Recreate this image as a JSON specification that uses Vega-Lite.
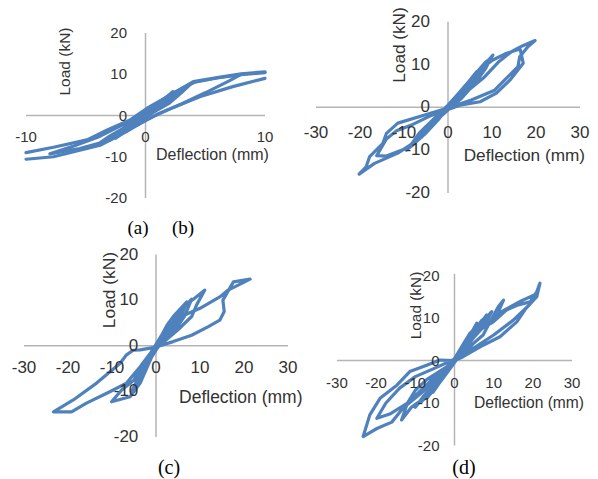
{
  "$schema": "https://vega.github.io/schema/vega-lite/v6.json",
  "padding": 0,
  "background": "white",
  "columns": 2,
  "spacing": 0,
  "bounds": "flush",
  "config": {"view": {"stroke": null}},
  "concat": [
    {
      "width": 299, "height": 240,
      "encoding": {
        "x": {"field": "x", "type": "quantitative", "scale": {"domain": [-12.176, 12.845], "nice": false, "zero": false}, "axis": null},
        "y": {"field": "y", "type": "quantitative", "scale": {"domain": [-30.18, 28.0], "nice": false, "zero": false}, "axis": null}
      },
      "layer": [
        {"data": {"values": [{"x": -10, "y": 0, "x2": 10, "y2": 0}, {"x": 0, "y": -20, "x2": 0, "y2": 20}]},
         "mark": {"type": "rule", "color": "#B4B4B4", "strokeWidth": 1.5},
         "encoding": {"x2": {"field": "x2"}, "y2": {"field": "y2"}}},
        {"data": {"values": [
          {"s":1,"x":0,"y":0},{"s":1,"x":0.8,"y":2},{"s":1,"x":1.5,"y":3.3},{"s":1,"x":1,"y":2},{"s":1,"x":0,"y":-0.5},{"s":1,"x":-0.8,"y":-2},{"s":1,"x":-1.5,"y":-3.3},{"s":1,"x":-1,"y":-2},{"s":1,"x":0,"y":0.4},
          {"s":1,"x":1,"y":2.6},{"s":1,"x":2.3,"y":5.8},{"s":1,"x":1.5,"y":3},{"s":1,"x":0.5,"y":0.5},{"s":1,"x":-0.5,"y":-1.3},{"s":1,"x":-1.5,"y":-3.5},{"s":1,"x":-2.5,"y":-5.5},{"s":1,"x":-1.6,"y":-3},{"s":1,"x":-0.5,"y":-0.5},{"s":1,"x":0.5,"y":1.5},
          {"s":1,"x":1.5,"y":3.8},{"s":1,"x":2.8,"y":5.8},{"s":1,"x":2.2,"y":4},{"s":1,"x":1,"y":1.5},{"s":1,"x":0,"y":-0.3},{"s":1,"x":-1.2,"y":-2.8},{"s":1,"x":-2.8,"y":-5.5},{"s":1,"x":-2,"y":-3.6},{"s":1,"x":-0.8,"y":-1.2},{"s":1,"x":0,"y":0.6},
          {"s":1,"x":1.8,"y":4.6},{"s":1,"x":3.5,"y":7.2},{"s":1,"x":2.6,"y":4.6},{"s":1,"x":1.2,"y":1.8},{"s":1,"x":0,"y":-0.4},{"s":1,"x":-1.8,"y":-3.8},{"s":1,"x":-3.4,"y":-6.2},{"s":1,"x":-2.2,"y":-3.8},{"s":1,"x":-0.8,"y":-1},{"s":1,"x":0.3,"y":1},
          {"s":1,"x":2,"y":4.5},{"s":1,"x":3,"y":6.5},{"s":1,"x":4,"y":8.2},{"s":1,"x":3,"y":5.5},{"s":1,"x":2,"y":3},{"s":1,"x":0.5,"y":0.5},{"s":1,"x":-1,"y":-2.2},{"s":1,"x":-2.5,"y":-4.8},{"s":1,"x":-4,"y":-7},{"s":1,"x":-3,"y":-5},{"s":1,"x":-1.5,"y":-2.5},{"s":1,"x":0,"y":0.5},
          {"s":1,"x":1.5,"y":3.5},{"s":1,"x":3,"y":6.4},{"s":1,"x":4.2,"y":8.2},{"s":1,"x":6,"y":9.2},{"s":1,"x":8,"y":10},{"s":1,"x":7,"y":8.4},{"s":1,"x":5,"y":5.5},{"s":1,"x":3,"y":2.8},{"s":1,"x":1,"y":0.3},{"s":1,"x":-1,"y":-2.8},{"s":1,"x":-3,"y":-6},{"s":1,"x":-5.5,"y":-8},{"s":1,"x":-8,"y":-9.3},{"s":1,"x":-6,"y":-7.4},{"s":1,"x":-4,"y":-5.3},{"s":1,"x":-2,"y":-2.4},{"s":1,"x":-0.5,"y":0},
          {"s":1,"x":1,"y":3},{"s":1,"x":2.6,"y":5.8},{"s":1,"x":4,"y":8.2},{"s":1,"x":6,"y":9.2},{"s":1,"x":8,"y":10.1},{"s":1,"x":10,"y":10.6},
          {"s":2,"x":10,"y":9.0},{"s":2,"x":7.3,"y":7.0},{"s":2,"x":4.6,"y":4.6},{"s":2,"x":1.8,"y":1.3},{"s":2,"x":0,"y":-1.1},{"s":2,"x":-1.6,"y":-3.9},{"s":2,"x":-3.8,"y":-7.2},{"s":2,"x":-7.7,"y":-10},{"s":2,"x":-10,"y":-10.6},
          {"s":3,"x":-10,"y":-9.0},{"s":3,"x":-7.7,"y":-7.7},{"s":3,"x":-4.9,"y":-5.9},{"s":3,"x":-3.2,"y":-3.5},{"s":3,"x":-1.3,"y":-1.1},{"s":3,"x":0.1,"y":1.7},{"s":3,"x":1.5,"y":4},{"s":3,"x":2.8,"y":6.2},{"s":3,"x":4,"y":8.0},{"s":3,"x":6,"y":9.1},{"s":3,"x":8,"y":9.9},{"s":3,"x":10,"y":10.4}
        ]},
         "mark": {"type": "line", "color": "#4F81BD", "strokeWidth": 3.2, "strokeJoin": "round", "strokeCap": "round"},
         "encoding": {"detail": {"field": "s"}, "order": {"value": null}}},
        {"data": {"values": [{"x": -10, "y": 0, "t": "-10"}, {"x": 0, "y": 0, "t": "0"}, {"x": 10, "y": 0, "t": "10"}]},
         "mark": {"type": "text", "dy": 21.5, "align": "center", "baseline": "middle", "font": "Liberation Sans", "fontSize": 15, "color": "#333333"},
         "encoding": {"text": {"field": "t"}}},
        {"data": {"values": [{"x": 0, "y": -20, "t": "-20"}, {"x": 0, "y": -10, "t": "-10"}, {"x": 0, "y": 0, "t": "0"}, {"x": 0, "y": 10, "t": "10"}, {"x": 0, "y": 20, "t": "20"}]},
         "mark": {"type": "text", "dx": -18.5, "align": "right", "baseline": "middle", "font": "Liberation Sans", "fontSize": 15, "color": "#333333"},
         "encoding": {"text": {"field": "t"}}},
        {"data": {"values": [{"x": 0.88, "y": -9.58, "t": "Deflection (mm)"}]},
         "mark": {"type": "text", "align": "left", "baseline": "middle", "font": "Liberation Sans", "fontSize": 16, "color": "#333333"},
         "encoding": {"text": {"field": "t"}}},
        {"data": {"values": [{"x": -6.74, "y": 13.09, "t": "Load (kN)"}]},
         "mark": {"type": "text", "angle": 270, "align": "center", "baseline": "middle", "font": "Liberation Sans", "fontSize": 15.5, "color": "#333333"},
         "encoding": {"text": {"field": "t"}}},
        {"data": {"values": [{"x": -0.63, "y": -27.15, "t": "(a)"}, {"x": 3.14, "y": -27.15, "t": "(b)"}]},
         "mark": {"type": "text", "align": "center", "baseline": "middle", "font": "Liberation Serif", "fontSize": 19, "color": "#000000"},
         "encoding": {"text": {"field": "t"}}}
      ]
    },
    {
      "width": 299, "height": 240,
      "encoding": {
        "x": {"field": "x", "type": "quantitative", "scale": {"domain": [-33.864, 34.091], "nice": false, "zero": false}, "axis": null},
        "y": {"field": "y", "type": "quantitative", "scale": {"domain": [-31.0, 25.07], "nice": false, "zero": false}, "axis": null}
      },
      "layer": [
        {"data": {"values": [{"x": -30, "y": 0, "x2": 30, "y2": 0}, {"x": 0, "y": -20, "x2": 0, "y2": 20}]},
         "mark": {"type": "rule", "color": "#B4B4B4", "strokeWidth": 1.5},
         "encoding": {"x2": {"field": "x2"}, "y2": {"field": "y2"}}},
        {"data": {"values": [
          {"s":1,"x":0,"y":0},{"s":1,"x":2,"y":2.5},{"s":1,"x":1,"y":1},{"s":1,"x":0,"y":-0.2},{"s":1,"x":-2,"y":-2.3},{"s":1,"x":-1,"y":-0.9},{"s":1,"x":0,"y":0.2},
          {"s":1,"x":2,"y":2.6},{"s":1,"x":4,"y":5},{"s":1,"x":2.5,"y":2.5},{"s":1,"x":0,"y":-0.4},{"s":1,"x":-2,"y":-2.5},{"s":1,"x":-4,"y":-4.8},{"s":1,"x":-2.5,"y":-2.3},{"s":1,"x":0,"y":0.3},
          {"s":1,"x":3,"y":3.8},{"s":1,"x":6,"y":7.4},{"s":1,"x":4,"y":4.5},{"s":1,"x":1,"y":0.5},{"s":1,"x":-2,"y":-2},{"s":1,"x":-6,"y":-7},{"s":1,"x":-4,"y":-4.2},{"s":1,"x":-1,"y":-0.6},{"s":1,"x":0,"y":0.5},
          {"s":1,"x":5,"y":6.2},{"s":1,"x":7,"y":8.4},{"s":1,"x":5.5,"y":5.8},{"s":1,"x":3,"y":2.6},{"s":1,"x":0,"y":-0.3},{"s":1,"x":-5,"y":-5.6},{"s":1,"x":-7.5,"y":-8.2},{"s":1,"x":-5.5,"y":-5.5},{"s":1,"x":-2.5,"y":-2},{"s":1,"x":0,"y":0.4},
          {"s":1,"x":3,"y":4},{"s":1,"x":8.5,"y":10.5},{"s":1,"x":9.5,"y":11.3},{"s":1,"x":7.5,"y":8},{"s":1,"x":4.5,"y":4},{"s":1,"x":1,"y":0.3},{"s":1,"x":-3,"y":-3.4},{"s":1,"x":-8,"y":-8.8},{"s":1,"x":-9,"y":-9.6},{"s":1,"x":-6.5,"y":-6},{"s":1,"x":-2,"y":-1.5},{"s":1,"x":0,"y":0.3},
          {"s":1,"x":4,"y":5.2},{"s":1,"x":8,"y":9.5},{"s":1,"x":10.2,"y":12.2},{"s":1,"x":8.5,"y":9},{"s":1,"x":6,"y":5.5},{"s":1,"x":3,"y":2},{"s":1,"x":0,"y":-0.5},{"s":1,"x":-4,"y":-4},{"s":1,"x":-7,"y":-7.5},{"s":1,"x":-9.5,"y":-10},{"s":1,"x":-7,"y":-7},{"s":1,"x":-4,"y":-3.5},{"s":1,"x":-1,"y":-0.5},{"s":1,"x":0,"y":0.5},
          {"s":1,"x":3,"y":3.8},{"s":1,"x":6.5,"y":8.3},{"s":1,"x":10.3,"y":11.1},{"s":1,"x":13,"y":12.5},{"s":1,"x":16.4,"y":13.6},{"s":1,"x":17.1,"y":10.3},{"s":1,"x":14.1,"y":6.4},{"s":1,"x":11,"y":3.3},{"s":1,"x":7.3,"y":1.3},{"s":1,"x":2.7,"y":0.5},{"s":1,"x":0,"y":-0.5},{"s":1,"x":-4,"y":-2},{"s":1,"x":-8,"y":-4},{"s":1,"x":-11.7,"y":-5.5},{"s":1,"x":-14,"y":-7.4},{"s":1,"x":-16.2,"y":-11.3},{"s":1,"x":-14,"y":-11.4},{"s":1,"x":-10,"y":-9.8},{"s":1,"x":-7.5,"y":-8.3},{"s":1,"x":-5,"y":-6},{"s":1,"x":-2.3,"y":-3},{"s":1,"x":0,"y":0},
          {"s":1,"x":3.8,"y":3.3},{"s":1,"x":8.3,"y":7.1},{"s":1,"x":11.4,"y":10.5},{"s":1,"x":14.4,"y":13.0},{"s":1,"x":17,"y":14.4},{"s":1,"x":19.8,"y":15.6},{"s":1,"x":18.2,"y":14.2},{"s":1,"x":16.3,"y":11.8},{"s":1,"x":15.9,"y":9.5},{"s":1,"x":12.9,"y":6.4},{"s":1,"x":10.6,"y":4.0},{"s":1,"x":5.3,"y":1.7},{"s":1,"x":0.5,"y":0},{"s":1,"x":-5.3,"y":-1.8},{"s":1,"x":-11.4,"y":-3.7},{"s":1,"x":-14,"y":-6.1},{"s":1,"x":-14.8,"y":-8.4},{"s":1,"x":-17.8,"y":-11.5},{"s":1,"x":-18.6,"y":-13.9},{"s":1,"x":-20.2,"y":-15.6},{"s":1,"x":-16.7,"y":-13.1},{"s":1,"x":-11.4,"y":-10.7},{"s":1,"x":-6.8,"y":-7.6},{"s":1,"x":-2.3,"y":-3},{"s":1,"x":0,"y":0}
        ]},
         "mark": {"type": "line", "color": "#4F81BD", "strokeWidth": 3.2, "strokeJoin": "round", "strokeCap": "round"},
         "encoding": {"detail": {"field": "s"}, "order": {"value": null}}},
        {"data": {"values": [{"x": -30, "y": 0, "t": "-30"}, {"x": -20, "y": 0, "t": "-20"}, {"x": -10, "y": 0, "t": "-10"}, {"x": 0, "y": 0, "t": "0"}, {"x": 10, "y": 0, "t": "10"}, {"x": 20, "y": 0, "t": "20"}, {"x": 30, "y": 0, "t": "30"}]},
         "mark": {"type": "text", "dy": 25.5, "align": "center", "baseline": "middle", "font": "Liberation Sans", "fontSize": 17, "color": "#333333"},
         "encoding": {"text": {"field": "t"}}},
        {"data": {"values": [{"x": 0, "y": -20, "t": "-20"}, {"x": 0, "y": -10, "t": "-10"}, {"x": 0, "y": 0, "t": "0"}, {"x": 0, "y": 10, "t": "10"}, {"x": 0, "y": 20, "t": "20"}]},
         "mark": {"type": "text", "dx": -18, "align": "right", "baseline": "middle", "font": "Liberation Sans", "fontSize": 17, "color": "#333333"},
         "encoding": {"text": {"field": "t"}}},
        {"data": {"values": [{"x": 3.57, "y": -11.38, "t": "Deflection (mm)"}]},
         "mark": {"type": "text", "align": "left", "baseline": "middle", "font": "Liberation Sans", "fontSize": 17.2, "color": "#333333"},
         "encoding": {"text": {"field": "t"}}},
        {"data": {"values": [{"x": -10.98, "y": 14.56, "t": "Load (kN)"}]},
         "mark": {"type": "text", "angle": 270, "align": "center", "baseline": "middle", "font": "Liberation Sans", "fontSize": 17.2, "color": "#333333"},
         "encoding": {"text": {"field": "t"}}}
      ]
    },
    {
      "width": 299, "height": 239,
      "encoding": {
        "x": {"field": "x", "type": "quantitative", "scale": {"domain": [-35.455, 32.5], "nice": false, "zero": false}, "axis": null},
        "y": {"field": "y", "type": "quantitative", "scale": {"domain": [-29.23, 23.18], "nice": false, "zero": false}, "axis": null}
      },
      "layer": [
        {"data": {"values": [{"x": -30, "y": 0, "x2": 30, "y2": 0}, {"x": 0, "y": -20, "x2": 0, "y2": 20}]},
         "mark": {"type": "rule", "color": "#B4B4B4", "strokeWidth": 1.5},
         "encoding": {"x2": {"field": "x2"}, "y2": {"field": "y2"}}},
        {"data": {"values": [
          {"s":1,"x":0,"y":0},{"s":1,"x":1.5,"y":2.5},{"s":1,"x":3,"y":5},{"s":1,"x":2,"y":2.5},{"s":1,"x":0.5,"y":0},{"s":1,"x":-1,"y":-2},{"s":1,"x":-2,"y":-4},{"s":1,"x":-1,"y":-1.5},{"s":1,"x":0,"y":0},
          {"s":1,"x":2.5,"y":4.2},{"s":1,"x":4.5,"y":7},{"s":1,"x":6.5,"y":9},{"s":1,"x":5,"y":6},{"s":1,"x":3,"y":3},{"s":1,"x":0.5,"y":0},{"s":1,"x":-2,"y":-3.5},{"s":1,"x":-3,"y":-6.5},{"s":1,"x":-2,"y":-4.5},{"s":1,"x":-1,"y":-1.8},{"s":1,"x":0,"y":0.2},
          {"s":1,"x":2,"y":3.5},{"s":1,"x":5,"y":6.8},{"s":1,"x":3.5,"y":3.5},{"s":1,"x":1,"y":0.5},{"s":1,"x":-1,"y":-2.5},{"s":1,"x":-3.6,"y":-8.2},{"s":1,"x":-2,"y":-4},{"s":1,"x":0,"y":0},
          {"s":1,"x":2.5,"y":4.5},{"s":1,"x":4,"y":6.5},{"s":1,"x":7,"y":9.6},{"s":1,"x":5.5,"y":6},{"s":1,"x":2.5,"y":2},{"s":1,"x":0,"y":-0.2},{"s":1,"x":-2.5,"y":-4.5},{"s":1,"x":-4.5,"y":-8.8},{"s":1,"x":-3,"y":-5.5},{"s":1,"x":-1,"y":-1.2},{"s":1,"x":0,"y":0},
          {"s":1,"x":3,"y":4.5},{"s":1,"x":6,"y":8},{"s":1,"x":8.1,"y":10.2},{"s":1,"x":6.5,"y":6.5},{"s":1,"x":4,"y":3},{"s":1,"x":1,"y":0.3},{"s":1,"x":-1.5,"y":-2.5},{"s":1,"x":-4,"y":-7.5},{"s":1,"x":-5.5,"y":-10},{"s":1,"x":-3.5,"y":-6},{"s":1,"x":-1.5,"y":-2},{"s":1,"x":0,"y":0.3},
          {"s":1,"x":3,"y":5},{"s":1,"x":6,"y":8.5},{"s":1,"x":8.5,"y":10.2},{"s":1,"x":11.1,"y":12.2},{"s":1,"x":9.2,"y":8.9},{"s":1,"x":8.1,"y":6.4},{"s":1,"x":5,"y":3.5},{"s":1,"x":2,"y":1},{"s":1,"x":0,"y":-0.5},{"s":1,"x":-2.5,"y":-3.5},{"s":1,"x":-5,"y":-7.5},{"s":1,"x":-7.8,"y":-9.7},{"s":1,"x":-10.1,"y":-12.3},{"s":1,"x":-5.9,"y":-11.2},{"s":1,"x":-3.6,"y":-8.2},{"s":1,"x":-1.5,"y":-3.5},{"s":1,"x":0,"y":0},
          {"s":1,"x":3,"y":4},{"s":1,"x":6,"y":6.5},{"s":1,"x":10,"y":8.2},{"s":1,"x":14.5,"y":10.7},{"s":1,"x":16.4,"y":12.2},{"s":1,"x":21.4,"y":14.6},{"s":1,"x":17.6,"y":14.0},{"s":1,"x":15.2,"y":10.0},{"s":1,"x":15.5,"y":7.5},{"s":1,"x":14.5,"y":5.6},{"s":1,"x":11.9,"y":4.2},{"s":1,"x":8.1,"y":2.3},{"s":1,"x":3.9,"y":0.9},{"s":1,"x":0,"y":-0.3},{"s":1,"x":-3.6,"y":-0.9},{"s":1,"x":-5.2,"y":-1.0},{"s":1,"x":-6.7,"y":-2},{"s":1,"x":-8.2,"y":-3.9},{"s":1,"x":-13.5,"y":-8.2},{"s":1,"x":-18.8,"y":-11.9},{"s":1,"x":-23.3,"y":-14.5},{"s":1,"x":-19.2,"y":-14.5},{"s":1,"x":-15.8,"y":-12.6},{"s":1,"x":-10.5,"y":-10.1},{"s":1,"x":-6.7,"y":-8.2},{"s":1,"x":-3.6,"y":-4.6},{"s":1,"x":0,"y":0}
        ]},
         "mark": {"type": "line", "color": "#4F81BD", "strokeWidth": 3.2, "strokeJoin": "round", "strokeCap": "round"},
         "encoding": {"detail": {"field": "s"}, "order": {"value": null}}},
        {"data": {"values": [{"x": -30, "y": 0, "t": "-30"}, {"x": -20, "y": 0, "t": "-20"}, {"x": -10, "y": 0, "t": "-10"}, {"x": 0, "y": 0, "t": "0"}, {"x": 10, "y": 0, "t": "10"}, {"x": 20, "y": 0, "t": "20"}, {"x": 30, "y": 0, "t": "30"}]},
         "mark": {"type": "text", "dy": 22.6, "align": "center", "baseline": "middle", "font": "Liberation Sans", "fontSize": 17, "color": "#333333"},
         "encoding": {"text": {"field": "t"}}},
        {"data": {"values": [{"x": 0, "y": -20, "t": "-20"}, {"x": 0, "y": -10, "t": "-10"}, {"x": 0, "y": 0, "t": "0"}, {"x": 0, "y": 10, "t": "10"}, {"x": 0, "y": 20, "t": "20"}]},
         "mark": {"type": "text", "dx": -17.7, "align": "right", "baseline": "middle", "font": "Liberation Sans", "fontSize": 17, "color": "#333333"},
         "encoding": {"text": {"field": "t"}}},
        {"data": {"values": [{"x": 5.23, "y": -11.54, "t": "Deflection (mm)"}]},
         "mark": {"type": "text", "align": "left", "baseline": "middle", "font": "Liberation Sans", "fontSize": 17.5, "color": "#333333"},
         "encoding": {"text": {"field": "t"}}},
        {"data": {"values": [{"x": -10.45, "y": 12.21, "t": "Load (kN)"}]},
         "mark": {"type": "text", "angle": 270, "align": "center", "baseline": "middle", "font": "Liberation Sans", "fontSize": 17.4, "color": "#333333"},
         "encoding": {"text": {"field": "t"}}},
        {"data": {"values": [{"x": 2.95, "y": -26.89, "t": "(c)"}]},
         "mark": {"type": "text", "align": "center", "baseline": "middle", "font": "Liberation Serif", "fontSize": 20, "color": "#000000"},
         "encoding": {"text": {"field": "t"}}}
      ]
    },
    {
      "width": 299, "height": 239,
      "encoding": {
        "x": {"field": "x", "type": "quantitative", "scale": {"domain": [-39.668, 36.607], "nice": false, "zero": false}, "axis": null},
        "y": {"field": "y", "type": "quantitative", "scale": {"domain": [-27.882, 28.353], "nice": false, "zero": false}, "axis": null}
      },
      "layer": [
        {"data": {"values": [{"x": -30, "y": 0, "x2": 30, "y2": 0}, {"x": 0, "y": -20, "x2": 0, "y2": 20.4}]},
         "mark": {"type": "rule", "color": "#B4B4B4", "strokeWidth": 1.5},
         "encoding": {"x2": {"field": "x2"}, "y2": {"field": "y2"}}},
        {"data": {"values": [
          {"s":1,"x":0,"y":0},{"s":1,"x":2,"y":3},{"s":1,"x":1,"y":1},{"s":1,"x":0,"y":-0.3},{"s":1,"x":-2,"y":-2.5},{"s":1,"x":-1,"y":-1},{"s":1,"x":0,"y":0.3},
          {"s":1,"x":2,"y":3.2},{"s":1,"x":4,"y":6},{"s":1,"x":5.7,"y":8.8},{"s":1,"x":4,"y":5},{"s":1,"x":2,"y":2},{"s":1,"x":0,"y":-0.5},{"s":1,"x":-2,"y":-3},{"s":1,"x":-4,"y":-5.5},{"s":1,"x":-5.5,"y":-7.5},{"s":1,"x":-3.5,"y":-4},{"s":1,"x":-1,"y":-1},{"s":1,"x":0,"y":0.5},
          {"s":1,"x":3,"y":4.5},{"s":1,"x":5,"y":7},{"s":1,"x":7,"y":9.5},{"s":1,"x":5.5,"y":6.5},{"s":1,"x":3,"y":3},{"s":1,"x":0,"y":-0.2},{"s":1,"x":-3,"y":-4},{"s":1,"x":-5,"y":-6.5},{"s":1,"x":-7,"y":-8.8},{"s":1,"x":-4.5,"y":-5},{"s":1,"x":-1.5,"y":-1.5},{"s":1,"x":0,"y":0.3},
          {"s":1,"x":3,"y":4.5},{"s":1,"x":6,"y":8},{"s":1,"x":8.2,"y":10.7},{"s":1,"x":7,"y":8.5},{"s":1,"x":5,"y":5.5},{"s":1,"x":2.5,"y":2.5},{"s":1,"x":0,"y":-0.3},{"s":1,"x":-3,"y":-3.5},{"s":1,"x":-6,"y":-7},{"s":1,"x":-8.5,"y":-9.8},{"s":1,"x":-6.5,"y":-7},{"s":1,"x":-3.5,"y":-3.5},{"s":1,"x":0,"y":0.4},
          {"s":1,"x":2,"y":3.5},{"s":1,"x":4,"y":6.5},{"s":1,"x":6.5,"y":8.5},{"s":1,"x":9.5,"y":11.5},{"s":1,"x":7.5,"y":8},{"s":1,"x":4,"y":4.5},{"s":1,"x":0,"y":0},{"s":1,"x":-4,"y":-4.5},{"s":1,"x":-8,"y":-8.5},{"s":1,"x":-10,"y":-11},{"s":1,"x":-7,"y":-7.5},{"s":1,"x":-3,"y":-2.8},{"s":1,"x":0,"y":0},
          {"s":1,"x":3,"y":4.5},{"s":1,"x":6,"y":7.5},{"s":1,"x":9.9,"y":9.8},{"s":1,"x":11.2,"y":11.5},{"s":1,"x":12.5,"y":14.2},{"s":1,"x":11.2,"y":12.7},{"s":1,"x":9,"y":9},{"s":1,"x":7.3,"y":6},{"s":1,"x":4.8,"y":4},{"s":1,"x":2,"y":1.5},{"s":1,"x":0,"y":-0.3},{"s":1,"x":-3.7,"y":-2.5},{"s":1,"x":-7.1,"y":-4.5},{"s":1,"x":-10,"y":-7},{"s":1,"x":-12,"y":-10},{"s":1,"x":-13.5,"y":-14},{"s":1,"x":-11,"y":-11},{"s":1,"x":-8,"y":-9},{"s":1,"x":-5,"y":-6},{"s":1,"x":-2,"y":-2.5},{"s":1,"x":0,"y":0},
          {"s":1,"x":4,"y":5},{"s":1,"x":8,"y":8.5},{"s":1,"x":12,"y":11.5},{"s":1,"x":17,"y":14},{"s":1,"x":20.5,"y":15.5},{"s":1,"x":19,"y":13},{"s":1,"x":15,"y":9.5},{"s":1,"x":10,"y":6},{"s":1,"x":5,"y":3},{"s":1,"x":0,"y":0.3},{"s":1,"x":-5,"y":-1.8},{"s":1,"x":-10,"y":-3.8},{"s":1,"x":-14,"y":-6.5},{"s":1,"x":-17.5,"y":-10},{"s":1,"x":-19.8,"y":-13.6},{"s":1,"x":-16.5,"y":-12.6},{"s":1,"x":-12,"y":-10},{"s":1,"x":-8,"y":-6.5},{"s":1,"x":-4,"y":-3},{"s":1,"x":0,"y":0},
          {"s":1,"x":3,"y":3.8},{"s":1,"x":5.7,"y":6.8},{"s":1,"x":9.9,"y":9.1},{"s":1,"x":13.3,"y":11.9},{"s":1,"x":16,"y":13},{"s":1,"x":19.3,"y":13.8},{"s":1,"x":21,"y":16.2},{"s":1,"x":21.8,"y":18.2},{"s":1,"x":21,"y":15},{"s":1,"x":18,"y":12},{"s":1,"x":15.9,"y":9.1},{"s":1,"x":11.6,"y":5.6},{"s":1,"x":7.3,"y":3.6},{"s":1,"x":2.2,"y":0.9},{"s":1,"x":0,"y":0},{"s":1,"x":-3.7,"y":0.1},{"s":1,"x":-7.1,"y":-1.1},{"s":1,"x":-11.4,"y":-2.6},{"s":1,"x":-14.7,"y":-5.8},{"s":1,"x":-19,"y":-8.9},{"s":1,"x":-21.6,"y":-12.8},{"s":1,"x":-23.3,"y":-17.9},{"s":1,"x":-19.8,"y":-16},{"s":1,"x":-16,"y":-14.5},{"s":1,"x":-13.1,"y":-11.2},{"s":1,"x":-8,"y":-7.3},{"s":1,"x":-3.7,"y":-3.4},{"s":1,"x":0,"y":0}
        ]},
         "mark": {"type": "line", "color": "#4F81BD", "strokeWidth": 3.2, "strokeJoin": "round", "strokeCap": "round"},
         "encoding": {"detail": {"field": "s"}, "order": {"value": null}}},
        {"data": {"values": [{"x": -30, "y": 0, "t": "-30"}, {"x": -20, "y": 0, "t": "-20"}, {"x": -10, "y": 0, "t": "-10"}, {"x": 0, "y": 0, "t": "0"}, {"x": 10, "y": 0, "t": "10"}, {"x": 20, "y": 0, "t": "20"}, {"x": 30, "y": 0, "t": "30"}]},
         "mark": {"type": "text", "dy": 22, "align": "center", "baseline": "middle", "font": "Liberation Sans", "fontSize": 15, "color": "#333333"},
         "encoding": {"text": {"field": "t"}}},
        {"data": {"values": [{"x": 0, "y": -20, "t": "-20"}, {"x": 0, "y": -10, "t": "-10"}, {"x": 0, "y": 0, "t": "0"}, {"x": 0, "y": 10, "t": "10"}, {"x": 0, "y": 20, "t": "20"}]},
         "mark": {"type": "text", "dx": -15, "align": "right", "baseline": "middle", "font": "Liberation Sans", "fontSize": 15, "color": "#333333"},
         "encoding": {"text": {"field": "t"}}},
        {"data": {"values": [{"x": 4.97, "y": -9.93, "t": "Deflection (mm)"}]},
         "mark": {"type": "text", "align": "left", "baseline": "middle", "font": "Liberation Sans", "fontSize": 15.6, "color": "#333333"},
         "encoding": {"text": {"field": "t"}}},
        {"data": {"values": [{"x": -9.74, "y": 12.94, "t": "Load (kN)"}]},
         "mark": {"type": "text", "angle": 270, "align": "center", "baseline": "middle", "font": "Liberation Sans", "fontSize": 15.4, "color": "#333333"},
         "encoding": {"text": {"field": "t"}}},
        {"data": {"values": [{"x": 2.42, "y": -25.36, "t": "(d)"}]},
         "mark": {"type": "text", "align": "center", "baseline": "middle", "font": "Liberation Serif", "fontSize": 20, "color": "#000000"},
         "encoding": {"text": {"field": "t"}}}
      ]
    }
  ]
}
